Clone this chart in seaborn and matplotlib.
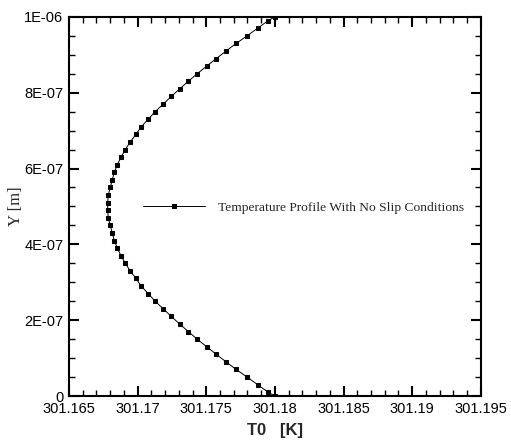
import matplotlib
matplotlib.use('Agg')
import matplotlib.pyplot as plt
from matplotlib.ticker import MultipleLocator
import pandas as pd
import seaborn as sns

# temperature (K), from the bottom wall to the top wall
t0 = [301.1800, 301.17951, 301.17874, 301.17798, 301.17718, 301.17645, 301.17573,
      301.17503, 301.17434, 301.17369, 301.17306, 301.17245, 301.17187, 301.17128,
      301.17077, 301.17026, 301.16988, 301.16946, 301.16910, 301.16879, 301.16852,
      301.16830, 301.16815, 301.16801, 301.16786, 301.16782,
      301.16782, 301.16786, 301.16801, 301.16815, 301.16830, 301.16852, 301.16879,
      301.16910, 301.16946, 301.16988, 301.17026, 301.17077, 301.17128, 301.17187,
      301.17245, 301.17306, 301.17369, 301.17434, 301.17503, 301.17573, 301.17645,
      301.17718, 301.17798, 301.17874, 301.17951, 301.1800]
y_pos = [0.0, 1e-08, 3e-08, 5e-08, 7e-08, 9e-08, 1.1e-07, 1.3e-07, 1.5e-07, 1.7e-07,
         1.9e-07, 2.1e-07, 2.3e-07, 2.5e-07, 2.7e-07, 2.9e-07, 3.1e-07, 3.3e-07,
         3.5e-07, 3.7e-07, 3.9e-07, 4.1e-07, 4.3e-07, 4.5e-07, 4.7e-07, 4.9e-07,
         5.1e-07, 5.3e-07, 5.5e-07, 5.7e-07, 5.9e-07, 6.1e-07, 6.3e-07, 6.5e-07,
         6.7e-07, 6.9e-07, 7.1e-07, 7.3e-07, 7.5e-07, 7.7e-07, 7.9e-07, 8.1e-07,
         8.3e-07, 8.5e-07, 8.7e-07, 8.9e-07, 9.1e-07, 9.3e-07, 9.5e-07, 9.7e-07,
         9.9e-07, 1e-06]

xticks = [301.165, 301.17, 301.175, 301.18, 301.185, 301.19, 301.195]
xtick_labels = ['301.165', '301.17', '301.175', '301.18', '301.185', '301.19', '301.195']
yticks = [0, 2e-07, 4e-07, 6e-07, 8e-07, 1e-06]
ytick_labels = ['0', '2E-07', '4E-07', '6E-07', '8E-07', '1E-06']

df = pd.DataFrame({'T0': t0, 'Y': y_pos})

sns.set_style('ticks')
plt.rcParams['font.family'] = ['Liberation Sans', 'DejaVu Sans']

fig = plt.figure(figsize=(5.11, 4.43), dpi=100)
ax = fig.add_axes([0.135, 0.106, 0.806, 0.856])

sns.lineplot(data=df, x='T0', y='Y', sort=False, estimator=None, ax=ax,
             color='black', linewidth=0.7, marker='s', markersize=3.2,
             markeredgecolor='black', label='Temperature Profile With No Slip Conditions')

ax.set_xlim(301.165, 301.195)
ax.set_ylim(0, 1e-06)
ax.set_xticks(xticks, labels=xtick_labels)
ax.set_yticks(yticks, labels=ytick_labels)
ax.xaxis.set_minor_locator(MultipleLocator(0.001))
ax.yaxis.set_minor_locator(MultipleLocator(5e-08))
ax.tick_params(which='both', direction='in', top=True, right=True, colors='black')
ax.tick_params(which='major', length=7.5, width=1.5, labelsize=10.5, pad=4)
ax.tick_params(axis='x', which='major', pad=4.5)
ax.tick_params(which='minor', length=4, width=1)
for s in ax.spines.values():
    s.set_linewidth(1.5)
    s.set_color('black')

ax.set_xlabel('T0   [K]', fontsize=12, fontweight='bold', labelpad=5)
ax.set_ylabel('Y [m]', fontsize=12, family='Liberation Serif', labelpad=0)

leg = ax.legend(loc='center left', bbox_to_anchor=(0.1796, 0.496), frameon=False,
                borderpad=0, borderaxespad=0, handlelength=4.6, handletextpad=0.95,
                prop={'family': 'Liberation Serif', 'size': 9.7})

fig.savefig('out.png', dpi=100)
